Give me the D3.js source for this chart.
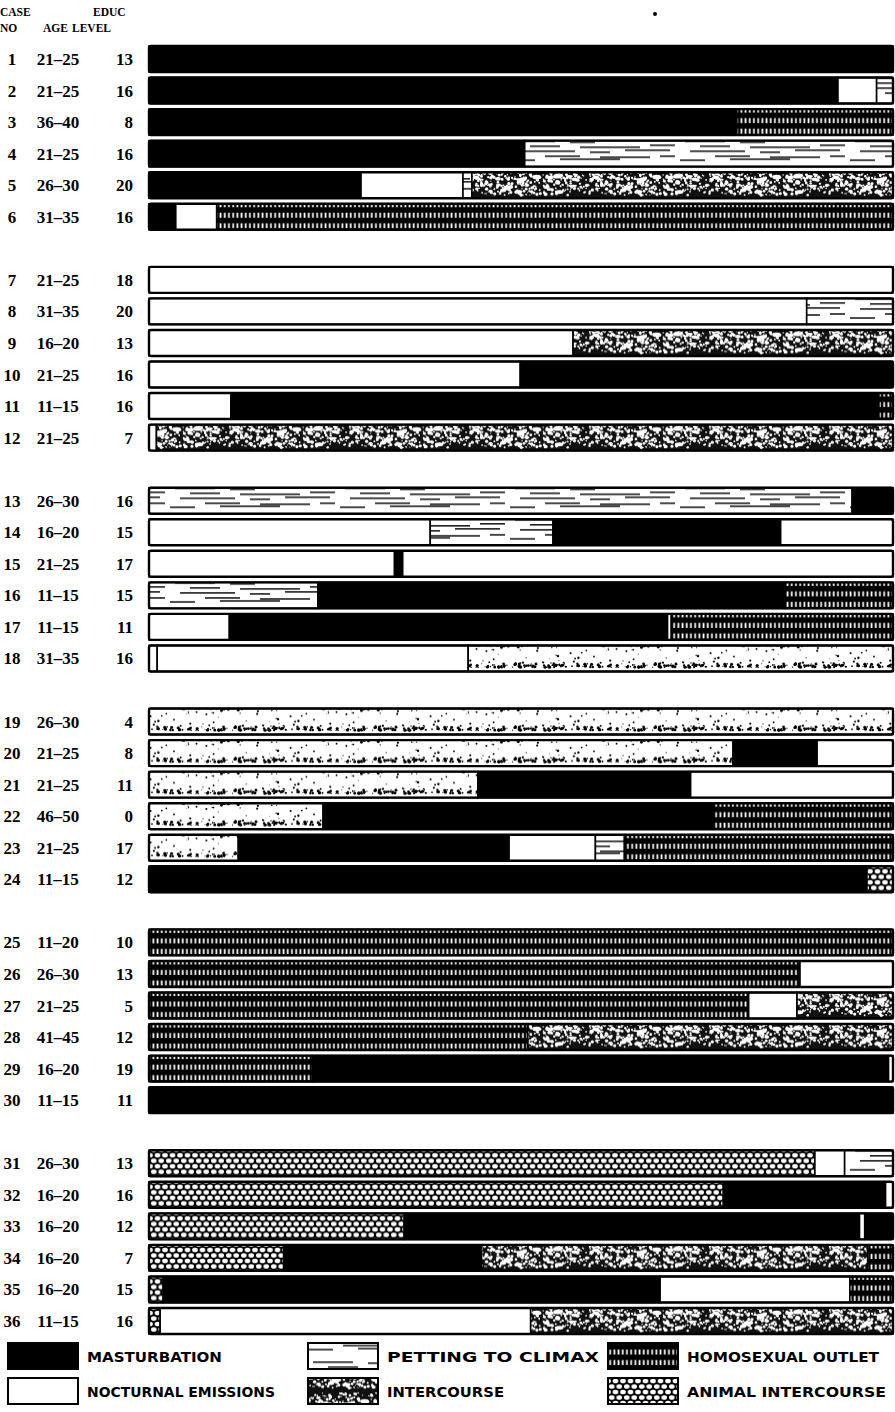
<!DOCTYPE html>
<html><head><meta charset="utf-8">
<script src="https://cdn.jsdelivr.net/npm/d3@7/dist/d3.min.js"></script>
<style>body{margin:0;background:#fff}svg{display:block}</style>
</head><body>
<svg id="chart" width="895" height="1412"></svg>
<script>
// ---------- DATA ----------
const categoryCodes = ["M", "N", "P", "I", "H", "A"];
const categoryNames = ["MASTURBATION", "NOCTURNAL EMISSIONS", "PETTING TO CLIMAX", "INTERCOURSE", "HOMOSEXUAL OUTLET", "ANIMAL INTERCOURSE"];
const caseNos = [1,2,3,4,5,6,7,8,9,10,11,12,13,14,15,16,17,18,19,20,21,22,23,24,25,26,27,28,29,30,31,32,33,34,35,36];
const ageGroups = ["21–25","21–25","36–40","21–25","26–30","31–35",
  "21–25","31–35","16–20","21–25","11–15","21–25",
  "26–30","16–20","21–25","11–15","11–15","31–35",
  "26–30","21–25","21–25","46–50","21–25","11–15",
  "11–20","26–30","21–25","41–45","16–20","11–15",
  "26–30","16–20","16–20","16–20","16–20","11–15"];
const educLevels = [13,16,8,16,20,16, 18,20,13,16,16,7, 16,15,17,15,11,16, 4,8,11,0,17,12, 10,13,5,12,19,11, 13,16,12,7,15,16];
// sequence of outlets in each life history, percent of total outlet
const outletSequences = [
  [["M",100]],
  [["M",92.6],["N",5.2],["P",2.2]],
  [["M",79],["H",21]],
  [["M",50.5],["P",49.5]],
  [["M",28.5],["N",13.7],["P",1.2],["I",56.6]],
  [["M",3.6],["N",5.5],["H",90.9]],
  [["N",100]],
  [["N",88.4],["P",11.6]],
  [["N",57],["I",43]],
  [["N",49.9],["M",50.1]],
  [["N",11],["M",87.1],["H",1.9]],
  [["N",1],["I",99]],
  [["P",94.5],["M",5.5]],
  [["N",37.8],["P",16.5],["M",30.6],["N",15.1]],
  [["N",33],["M",1.1],["N",65.9]],
  [["P",22.7],["M",62.8],["H",14.5]],
  [["N",10.8],["M",58.9],["N",0.5],["H",29.8]],
  [["N",1.1],["N",41.8],["I",57.1]],
  [["I",100]],
  [["I",78.5],["M",11.3],["N",10.2]],
  [["I",44.2],["M",28.6],["N",27.2]],
  [["I",23.4],["M",52.3],["H",24.3]],
  [["I",12],["M",36.4],["N",11.6],["P",3.9],["H",36.1]],
  [["M",96.5],["A",3.5]],
  [["H",100]],
  [["H",87.5],["N",12.5]],
  [["H",80.6],["N",6.5],["I",12.9]],
  [["H",50.9],["I",49.1]],
  [["H",22],["M",77.4],["N",0.6]],
  [["M",100]],
  [["A",89.5],["N",4],["P",6.5]],
  [["A",77.2],["M",21.8],["N",1]],
  [["A",34.3],["M",61.2],["N",0.7],["M",3.8]],
  [["A",18.1],["M",26.6],["I",51.9],["H",3.4]],
  [["A",1.9],["M",66.8],["N",25.5],["H",5.8]],
  [["A",1.5],["N",49.8],["I",48.7]]
];
// cases whose intercourse texture printed light
const lightTextureCases = [18,19,20,21,22,23];

// ---------- LAYOUT ----------
const svg = d3.select("#chart");
const x = d3.scaleLinear().domain([0, 100]).range([149, 893]);
const slotOf = i => i + Math.floor(i / 6);
const y = d3.scaleLinear().domain([0, 40]).range([59, 1321]);
const step = y(1) - y(0);
const barH = 26;
const barTop0 = y(0) - barH / 2;

// ---------- PATTERNS ----------
const defs = svg.append("defs");
let seed = 20240611;
const rnd = () => { seed = (seed * 1664525 + 1013904223) % 4294967296; return seed / 4294967296; };

// petting: horizontal dashes on white
{
  const p = defs.append("pattern").attr("id", "pat-P").attr("patternUnits", "userSpaceOnUse")
    .attr("width", 170).attr("height", step).attr("y", barTop0);
  p.append("rect").attr("width", 170).attr("height", step).attr("fill", "#fff");
  const dashes = [[5,4,40],[60,5,25],[100,3,55],[20,9,30],[70,10,60],[140,8,25],[10,14,55],[80,15,20],[115,13,45],
    [35,19,35],[90,20,50],[150,19,15],[0,23,25],[50,22,60]];
  dashes.forEach(([dx, dy, len]) => p.append("rect").attr("x", dx).attr("y", dy).attr("width", len).attr("height", 1.4).attr("fill", "#000"));
}
// homosexual: black with rows of small white vertical slits
{
  const h = step / 3;
  const p = defs.append("pattern").attr("id", "pat-H").attr("patternUnits", "userSpaceOnUse")
    .attr("width", 4.2).attr("height", h).attr("y", barTop0);
  p.append("rect").attr("width", 4.2).attr("height", h).attr("fill", "#000");
  p.append("rect").attr("x", 1.3).attr("y", 2.6).attr("width", 1.7).attr("height", 5).attr("fill", "#fff");
}
// animal: white cells on black
{
  const W = 7.5, H = 11;
  const p = defs.append("pattern").attr("id", "pat-A").attr("patternUnits", "userSpaceOnUse")
    .attr("width", W).attr("height", H).attr("y", barTop0 + 1);
  p.append("rect").attr("width", W).attr("height", H).attr("fill", "#000");
  [[0,0],[W,0],[0,H],[W,H],[W/2,H/2]].forEach(([cx, cy]) =>
    p.append("ellipse").attr("cx", cx).attr("cy", cy).attr("rx", 2.8).attr("ry", 2.3).attr("fill", "#fff"));
}
// intercourse dense: mottled
{
  const W = 120;
  const p = defs.append("pattern").attr("id", "pat-I").attr("patternUnits", "userSpaceOnUse")
    .attr("width", W).attr("height", step).attr("y", barTop0);
  p.append("rect").attr("width", W).attr("height", step).attr("fill", "#111");
  for (let k = 0; k < 320; k++) {
    p.append("circle").attr("cx", rnd() * W).attr("cy", rnd() * 27).attr("r", 0.5 + rnd() * 1.2).attr("fill", "#fff");
  }
  for (let k = 0; k < 30; k++) {
    p.append("ellipse").attr("cx", rnd() * W).attr("cy", 3 + rnd() * 21).attr("rx", 1.5 + rnd() * 3).attr("ry", 0.8 + rnd() * 1.5).attr("fill", "#fff");
  }
}
// intercourse light: mostly white with dark fringes
{
  const W = 140;
  const p = defs.append("pattern").attr("id", "pat-Il").attr("patternUnits", "userSpaceOnUse")
    .attr("width", W).attr("height", step).attr("y", barTop0);
  p.append("rect").attr("width", W).attr("height", step).attr("fill", "#fff");
  for (let k = 0; k < 200; k++) {
    const top = rnd() < 0.5;
    const cy = top ? rnd() * rnd() * 7 : 26 - rnd() * rnd() * 7;
    p.append("circle").attr("cx", rnd() * W).attr("cy", cy).attr("r", 0.5 + rnd() * 1.2).attr("fill", "#000");
  }
  for (let k = 0; k < 25; k++) {
    p.append("circle").attr("cx", rnd() * W).attr("cy", 6 + rnd() * 14).attr("r", 0.4 + rnd() * 0.8).attr("fill", "#000");
  }
}

const fillFor = (code, caseNo) => {
  if (code === "M") return "#000";
  if (code === "N") return "#fff";
  if (code === "I") return lightTextureCases.includes(caseNo) ? "url(#pat-Il)" : "url(#pat-I)";
  return `url(#pat-${code})`;
};

// ---------- ROWS ----------
const rows = caseNos.map((c, i) => {
  let acc = 0;
  const segs = outletSequences[i].map(([code, v]) => { const s = {code, x0: acc, x1: acc + v}; acc += v; return s; });
  return {caseNo: c, age: ageGroups[i], educ: educLevels[i], cy: y(slotOf(i)), segs};
});

const rowG = svg.append("g").selectAll("g").data(rows).join("g")
  .attr("transform", d => `translate(0,${d.cy})`);

rowG.selectAll("rect.seg").data(d => d.segs.map(s => ({...s, caseNo: d.caseNo}))).join("rect")
  .attr("class", "seg")
  .attr("x", s => x(s.x0)).attr("width", s => x(s.x1) - x(s.x0))
  .attr("y", -barH / 2).attr("height", barH)
  .attr("fill", s => fillFor(s.code, s.caseNo))
  .attr("stroke", "#000").attr("stroke-width", 1.6);

rowG.append("rect")
  .attr("x", x(0)).attr("width", x(100) - x(0))
  .attr("y", -barH / 2).attr("height", barH)
  .attr("rx", 2).attr("fill", "none").attr("stroke", "#000").attr("stroke-width", 2.4);

const labelFont = "'Liberation Serif', 'DejaVu Serif', serif";
rowG.append("text").attr("x", 12).attr("y", 6).attr("text-anchor", "middle")
  .attr("font-family", labelFont).attr("font-weight", "bold").attr("font-size", 17).text(d => d.caseNo);
rowG.append("text").attr("x", 58).attr("y", 6).attr("text-anchor", "middle")
  .attr("font-family", labelFont).attr("font-weight", "bold").attr("font-size", 17).text(d => d.age);
rowG.append("text").attr("x", 133).attr("y", 6).attr("text-anchor", "end")
  .attr("font-family", labelFont).attr("font-weight", "bold").attr("font-size", 17).text(d => d.educ);

// ---------- HEADER ----------
const hdr = [["CASE", 0, 16], ["EDUC", 93, 16], ["NO", 0, 32], ["AGE", 43, 32], ["LEVEL", 72, 32]];
svg.append("g").selectAll("text").data(hdr).join("text")
  .attr("x", d => d[1]).attr("y", d => d[2])
  .attr("font-family", labelFont).attr("font-weight", "bold").attr("font-size", 11.5)
  .text(d => d[0]);
svg.append("circle").attr("cx", 655).attr("cy", 14).attr("r", 2).attr("fill", "#000");

// ---------- LEGEND ----------
const legendLayout = [
  {code: "M", col: 0, row: 0, tl: 135}, {code: "N", col: 0, row: 1, tl: 188},
  {code: "P", col: 1, row: 0, tl: 212}, {code: "I", col: 1, row: 1, tl: 117},
  {code: "H", col: 2, row: 0, tl: 192}, {code: "A", col: 2, row: 1, tl: 199}
];
const colX = [8, 308, 608];
const rowY = [1343, 1378];
const lg = svg.append("g").selectAll("g").data(legendLayout).join("g")
  .attr("transform", d => `translate(${colX[d.col]},${rowY[d.row]})`);
lg.append("rect").attr("width", 70).attr("height", 26)
  .attr("fill", d => fillFor(d.code, 0)).attr("stroke", "#000").attr("stroke-width", 2);
lg.append("text").attr("x", 79).attr("y", 19)
  .attr("font-family", "'DejaVu Sans', sans-serif").attr("font-weight", "bold").attr("font-size", 14.5)
  .attr("textLength", d => d.tl).attr("lengthAdjust", "spacingAndGlyphs")
  .text(d => categoryNames[categoryCodes.indexOf(d.code)]);
</script>
</body></html>
